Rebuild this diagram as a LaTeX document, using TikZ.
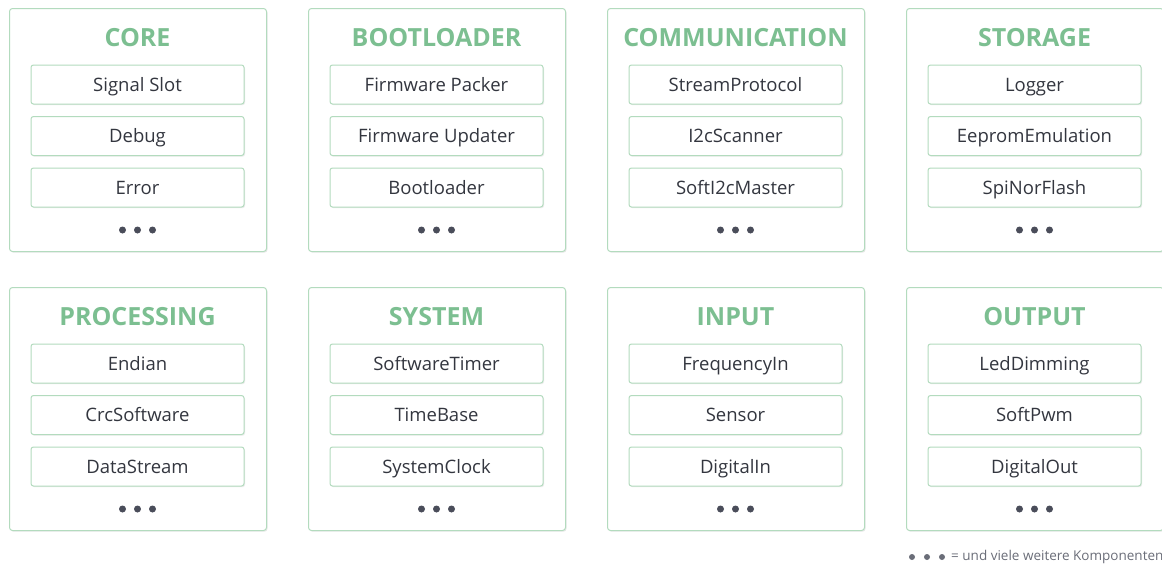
\documentclass[tikz,border=0pt]{standalone}
\usepackage{fontspec}
\setmainfont{Open Sans}
\usetikzlibrary{shadows}
\definecolor{tgreen}{HTML}{7CBF91}
\definecolor{bgreen}{HTML}{B3DBBE}
\definecolor{txt}{HTML}{33363F}
\definecolor{dotc}{HTML}{4A4D5A}
\definecolor{legc}{HTML}{6A6D78}
\tikzset{
  panel/.style={draw=bgreen, line width=1pt, rounded corners=3pt, fill=white,
    minimum width=257pt, minimum height=243pt, anchor=north west,
    drop shadow={shadow xshift=1pt, shadow yshift=-1.2pt, opacity=0.18}},
  compbox/.style={draw=bgreen, line width=1pt, rounded corners=2.5pt, fill=white,
    minimum width=213pt, minimum height=39pt, inner sep=0pt,
    text height=17.5pt, text depth=4pt,
    text=txt, font=\fontsize{18.5}{21}\selectfont,
    drop shadow={shadow xshift=1pt, shadow yshift=-1.2pt, opacity=0.15}},
  ptitle/.style={text=tgreen, font=\fontsize{25}{28}\selectfont\bfseries, inner sep=0pt},
  dotn/.style={circle, fill=dotc, minimum size=7pt, inner sep=0pt},
  legend/.style={text=legc, font=\fontsize{13.5}{16}\selectfont, inner sep=0pt}
}
\begin{document}
\begin{tikzpicture}[x=1pt,y=-1pt]
\useasboundingbox (0,0) rectangle (1162,565);
\foreach \i/\x/\y/\t/\a/\b/\c in {
  1/9/8/CORE/Signal Slot/Debug/Error,
  2/308/8/BOOTLOADER/Firmware Packer/Firmware Updater/Bootloader,
  3/607/8/COMMUNICATION/StreamProtocol/I2cScanner/SoftI2cMaster,
  4/906/8/STORAGE/Logger/EepromEmulation/SpiNorFlash,
  5/9/287/PROCESSING/Endian/CrcSoftware/DataStream,
  6/308/287/SYSTEM/SoftwareTimer/TimeBase/SystemClock,
  7/607/287/INPUT/FrequencyIn/Sensor/DigitalIn,
  8/906/287/OUTPUT/LedDimming/SoftPwm/DigitalOut}{
  \node[panel] (p\i) at (\x,\y) {};
  \node[ptitle] (t\i) at (\x+128.5,\y+29.5) {\t};
  \node[compbox] (a\i) at (\x+128.5,\y+76.5) {\a};
  \node[compbox] (b\i) at (\x+128.5,\y+128) {\b};
  \node[compbox] (c\i) at (\x+128.5,\y+179.5) {\c};
  \node[dotn] (da\i) at (\x+113.5,\y+222) {};
  \node[dotn] (db\i) at (\x+128.5,\y+222) {};
  \node[dotn] (dc\i) at (\x+143.5,\y+222) {};
}
\node[dotn, fill=legc, minimum size=6pt] (l1) at (912,557) {};
\node[dotn, fill=legc, minimum size=6pt] (l2) at (927,557) {};
\node[dotn, fill=legc, minimum size=6pt] (l3) at (942,557) {};
\node[legend, anchor=west] (lt) at (951,557) {= und viele weitere Komponenten};
\end{tikzpicture}
\end{document}
